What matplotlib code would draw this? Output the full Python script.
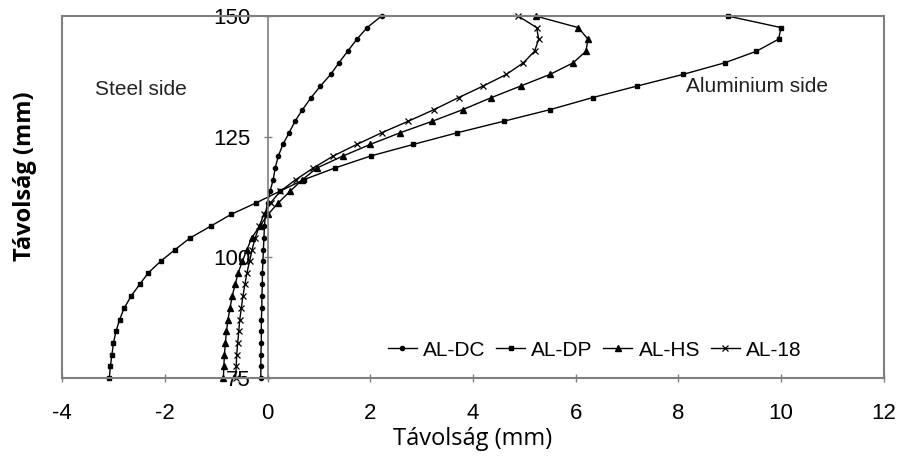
import numpy as np
import matplotlib
matplotlib.use('Agg')
import matplotlib.pyplot as plt
from matplotlib import rcParams

rcParams.update({'font.family': ['Liberation Sans', 'DejaVu Sans'], 'font.size': 14,
                 'axes.unicode_minus': False})

# depth positions (mm), bottom to top
depth = [75.0, 77.4, 79.8, 82.3, 84.7, 87.1, 89.5, 91.9, 94.4, 96.8, 99.2,
         101.6, 104.0, 106.5, 108.9, 111.3, 113.7, 116.1, 118.5, 121.0, 123.4,
         125.8, 128.2, 130.6, 133.1, 135.5, 137.9, 140.3, 142.7, 145.2, 147.6, 150.0]

al_dc = [-0.13, -0.13, -0.13, -0.12, -0.12, -0.12, -0.11, -0.11, -0.10, -0.10, -0.09,
         -0.08, -0.07, -0.06, -0.04, 0.0, 0.05, 0.11, 0.15, 0.21, 0.30,
         0.42, 0.535, 0.68, 0.85, 1.03, 1.23, 1.39, 1.56, 1.74, 1.94, 2.22]
al_dp = [-3.08, -3.06, -3.03, -3.0, -2.95, -2.88, -2.79, -2.66, -2.49, -2.32, -2.08,
         -1.8, -1.51, -1.1, -0.71, -0.22, 0.24, 0.71, 1.31, 2.01, 2.84,
         3.69, 4.6, 5.5, 6.33, 7.2, 8.09, 8.9, 9.52, 9.95, 10.0, 8.96]
al_hs = [-0.86, -0.85, -0.84, -0.82, -0.80, -0.77, -0.73, -0.69, -0.63, -0.57, -0.49,
         -0.40, -0.31, -0.15, 0.01, 0.21, 0.44, 0.68, 0.96, 1.47, 2.0,
         2.58, 3.21, 3.8, 4.36, 4.93, 5.5, 5.95, 6.2, 6.24, 6.05, 5.22]
al_18 = [-0.62, -0.61, -0.60, -0.58, -0.56, -0.54, -0.51, -0.48, -0.44, -0.40, -0.35,
         -0.30, -0.24, -0.16, -0.07, 0.06, 0.25, 0.55, 0.89, 1.28, 1.74,
         2.22, 2.74, 3.24, 3.72, 4.2, 4.65, 4.98, 5.2, 5.28, 5.24, 4.88]

xticks = [-4, -2, 0, 2, 4, 6, 8, 10, 12]
yticks = [75, 100, 125, 150]

fig = plt.figure(figsize=(9, 4.63), dpi=100)
ax = fig.add_axes([0.069, 0.1836, 0.913, 0.7818])

gray = '#7f7f7f'
ax.plot(al_dc, depth, color='k', lw=1, marker='o', ms=3, label='AL-DC', clip_on=False)
ax.plot(al_dp, depth, color='k', lw=1, marker='s', ms=3.3, label='AL-DP', clip_on=False)
ax.plot(al_hs, depth, color='k', lw=1, marker='^', ms=3.8, label='AL-HS', clip_on=False)
ax.plot(al_18, depth, color='k', lw=1, marker='x', ms=3.8, mew=0.9, label='AL-18', clip_on=False)

ax.set_xlim(-4, 12)
ax.set_ylim(75, 150)
ax.set_xticks(xticks)
ax.set_yticks(yticks)

ax.spines['left'].set_position(('data', 0))
for s in ax.spines.values():
    s.set_color(gray)
    s.set_linewidth(1.5)
ax.spines['left'].set_linewidth(1.2)
ax.axvline(-4, color=gray, lw=1.5, clip_on=False)
ax.tick_params(axis='both', direction='inout', length=6, color=gray, labelsize=16, width=1)
ax.tick_params(axis='x', pad=15)
ax.tick_params(axis='y', pad=9)

ax.text(-3.36, 134.7, 'Steel side', fontsize=15, va='center', ha='left', color='#222222')
ax.text(8.14, 135.3, 'Aluminium side', fontsize=15, va='center', ha='left', color='#222222')

ax.legend(loc='center right', bbox_to_anchor=(0.9, 0.077), ncol=4, frameon=False,
          fontsize=15, handlelength=1.4, columnspacing=0.5, handletextpad=0.3,
          borderaxespad=0, borderpad=0)

ax.set_xlabel('Távolság (mm)', fontsize=17, family=['Open Sans', 'DejaVu Sans'], labelpad=2)
fig.text(0.028, 0.62, 'Távolság (mm)', fontsize=17, fontweight='bold', rotation=90,
         va='center', ha='center', family=['Open Sans', 'DejaVu Sans'])

fig.savefig('out.png', dpi=100)
